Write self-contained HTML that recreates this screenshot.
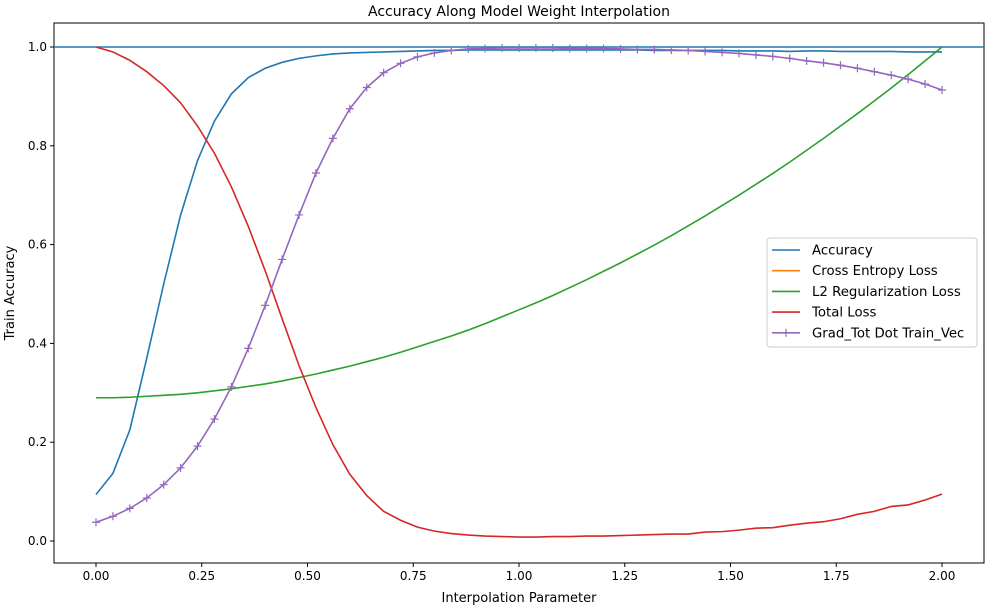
<!DOCTYPE html>
<html><head><meta charset="utf-8"><style>
body{margin:0;background:#fff;font-family:"Liberation Sans","DejaVu Sans",sans-serif}
svg text{font-family:"DejaVu Sans","Liberation Sans",sans-serif;fill:#000}
</style></head><body>
<svg id="c" width="994" height="606" xmlns="http://www.w3.org/2000/svg"></svg>
<script>
const xs=[];for(let i=0;i<=50;i++)xs.push(i*0.04);
const accuracy=[0.094,0.137,0.225,0.37,0.52,0.66,0.77,0.85,0.905,0.938,0.957,0.969,0.977,0.982,0.986,0.988,0.989,0.99,0.991,0.992,0.993,0.993,0.994,0.994,0.994,0.994,0.994,0.994,0.994,0.994,0.994,0.994,0.994,0.993,0.993,0.993,0.993,0.993,0.992,0.992,0.992,0.991,0.992,0.992,0.991,0.991,0.991,0.991,0.990,0.990,0.990];
const l2Loss=[0.290,0.290,0.291,0.293,0.295,0.297,0.300,0.304,0.308,0.313,0.318,0.324,0.331,0.338,0.346,0.354,0.363,0.372,0.382,0.393,0.404,0.415,0.427,0.440,0.454,0.468,0.482,0.497,0.513,0.529,0.546,0.563,0.581,0.599,0.618,0.638,0.658,0.679,0.700,0.722,0.744,0.767,0.791,0.815,0.840,0.865,0.891,0.917,0.944,0.972,1.000];
const totalLoss=[1.0,0.99,0.973,0.95,0.922,0.887,0.84,0.785,0.717,0.637,0.547,0.45,0.355,0.27,0.195,0.135,0.092,0.06,0.042,0.028,0.02,0.015,0.012,0.01,0.009,0.008,0.008,0.009,0.009,0.01,0.01,0.011,0.012,0.013,0.014,0.014,0.018,0.019,0.022,0.026,0.027,0.032,0.036,0.039,0.045,0.054,0.06,0.07,0.073,0.083,0.095];
const gradDot=[0.038,0.05,0.066,0.087,0.114,0.148,0.192,0.247,0.312,0.39,0.477,0.57,0.66,0.745,0.815,0.875,0.918,0.948,0.967,0.98,0.988,0.993,0.996,0.997,0.998,0.998,0.998,0.998,0.997,0.997,0.997,0.996,0.995,0.995,0.994,0.993,0.991,0.989,0.987,0.984,0.981,0.977,0.972,0.968,0.963,0.957,0.95,0.943,0.935,0.925,0.913];
const xTicks=[0,0.25,0.5,0.75,1.0,1.25,1.5,1.75,2.0];
const xTickLabels=["0.00","0.25","0.50","0.75","1.00","1.25","1.50","1.75","2.00"];
const yTicks=[0,0.2,0.4,0.6,0.8,1.0];
const yTickLabels=["0.0","0.2","0.4","0.6","0.8","1.0"];
const legendLabels=["Accuracy","Cross Entropy Loss","L2 Regularization Loss","Total Loss","Grad_Tot Dot Train_Vec"];
const colors=["#1f77b4","#ff7f0e","#2ca02c","#d62728","#9467bd"];
const L=54,R=984,T=23,B=563;
const X=v=>96+v*423, Y=v=>541-v*494;
const s=document.getElementById('c');const NS="http://www.w3.org/2000/svg";
function mk(t,a,p){const e=document.createElementNS(NS,t);for(const k in a)e.setAttribute(k,a[k]);(p||s).appendChild(e);return e;}
function txt(x,y,str,anchor,size){const e=mk('text',{x:x,y:y,'text-anchor':anchor,'font-size':size||12});e.textContent=str;return e;}
const ax=mk('rect',{x:L,y:T,width:R-L,height:B-T,fill:'none',stroke:'#000','stroke-width':1});


xTicks.forEach((v,i)=>{mk('line',{x1:X(v),x2:X(v),y1:B,y2:B+4,stroke:'#000'});
const t=txt(X(v),B+17,xTickLabels[i],'middle',12);

});
yTicks.forEach((v,i)=>{mk('line',{x1:L-4,x2:L,y1:Y(v),y2:Y(v),stroke:'#000'});
const t=txt(L-7,Y(v)+4,yTickLabels[i],'end',12);

});
const tt=txt(519,16,"Accuracy Along Model Weight Interpolation",'middle',14);


const xt=txt(519,602,"Interpolation Parameter",'middle',13);


const yt=txt(0,0,"Train Accuracy",'middle',13);yt.setAttribute('transform','translate(14,293) rotate(-90)');


const hl=mk('line',{x1:L,x2:R,y1:Y(1),y2:Y(1),stroke:colors[0],'stroke-width':1.5});


function line(d,c,name){const p=mk('polyline',{points:d.map((v,i)=>X(xs[i])+','+Y(v)).join(' '),fill:'none',stroke:c,'stroke-width':1.6});

return p;}
line(accuracy,colors[0],'accuracy-line');
line(l2Loss,colors[2],'l2-loss-line');
line(totalLoss,colors[3],'total-loss-line');
line(gradDot,colors[4],'grad-dot-line');
gradDot.forEach((v,i)=>{const g=mk('path',{d:`M${X(xs[i])-4},${Y(v)}h8M${X(xs[i])},${Y(v)-4}v8`,stroke:colors[4],'stroke-width':1.2});

});
const lg=mk('g',{});


mk('rect',{x:767,y:238,width:210,height:109,rx:3,fill:'#fff',stroke:'#ccc'},lg);
legendLabels.forEach((lab,i)=>{const y=250+i*20.7;
mk('line',{x1:772,x2:800,y1:y,y2:y,stroke:colors[i],'stroke-width':1.6},lg);
if(i===4)mk('path',{d:`M782,${y}h8M786,${y-4}v8`,stroke:colors[4],'stroke-width':1.2},lg);
const t=mk('text',{x:812,y:y+4.5,'font-size':13.3},lg);t.textContent=lab;

});
</script>
</body></html>
